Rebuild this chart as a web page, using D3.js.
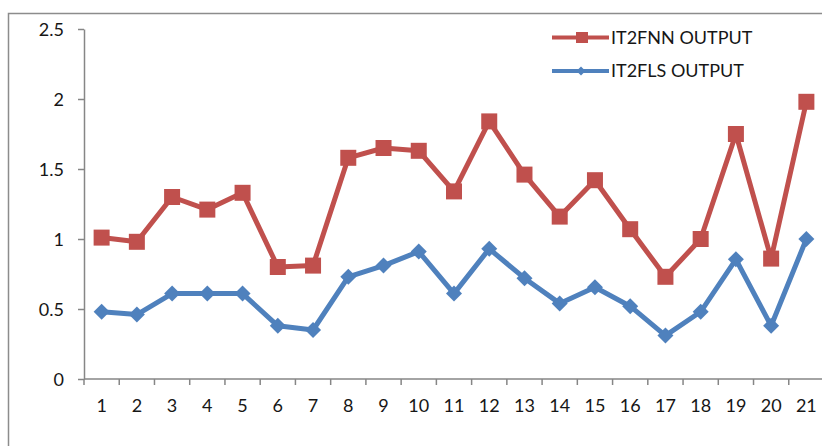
<!DOCTYPE html>
<html>
<head>
<meta charset="utf-8">
<script src="https://cdn.jsdelivr.net/npm/d3@7"></script>
<style>
  html, body { margin: 0; padding: 0; background: #fff; }
  svg { display: block; }
  text { font-family: Lato, "Liberation Sans", sans-serif; fill: #161616; }
</style>
</head>
<body>
<svg id="chart" width="822" height="446"></svg>
<script>
// Sample index 1..21
const categories = d3.range(1, 22).map(String);

// Model outputs per sample
const fnnOutput = [1.01, 0.98, 1.30, 1.21, 1.33, 0.80, 0.81, 1.58, 1.65, 1.63, 1.34,
                   1.84, 1.46, 1.16, 1.42, 1.07, 0.73, 1.00, 1.75, 0.86, 1.98];
const flsOutput = [0.48, 0.46, 0.61, 0.61, 0.61, 0.38, 0.35, 0.73, 0.81, 0.91, 0.61,
                   0.93, 0.72, 0.54, 0.655, 0.52, 0.31, 0.48, 0.855, 0.38, 1.00];

const yTicks = [0, 0.5, 1, 1.5, 2, 2.5];
const seriesNames = ["IT2FNN OUTPUT", "IT2FLS OUTPUT"];

const svg = d3.select("#chart");
const axisColor = "#868686";
const red = "#C0504D", blue = "#4F81BD";
const fontSize = "18px";

// chart area border
svg.append("rect")
  .attr("x", 8.5).attr("y", 13.5)
  .attr("width", 830).attr("height", 460)
  .attr("fill", "none").attr("stroke", "#8c8c8c").attr("stroke-width", 1.5);

const plotLeft = 84, plotRight = 824, plotTop = 29, plotBottom = 379;

const x = d3.scaleBand().domain(categories).range([plotLeft, plotRight]);
const y = d3.scaleLinear().domain([0, 2.5]).range([plotBottom, plotTop]);

// y axis
const yAxis = svg.append("g")
  .attr("transform", `translate(${plotLeft},0)`)
  .call(d3.axisLeft(y).tickValues(yTicks).tickSize(6).tickSizeOuter(0)
    .tickFormat(d => String(d)));
yAxis.select(".domain").attr("stroke", axisColor).attr("stroke-width", 1.5);
yAxis.selectAll(".tick line").attr("stroke", axisColor).attr("stroke-width", 1.5);
yAxis.selectAll(".tick text")
  .attr("x", -20).attr("dy", "0.36em")
  .style("font-size", fontSize).attr("fill", "#161616");

// x axis with ticks at band edges
const xAxis = svg.append("g").attr("transform", `translate(0,${plotBottom})`);
xAxis.append("line")
  .attr("x1", plotLeft).attr("x2", plotRight)
  .attr("stroke", axisColor).attr("stroke-width", 1.5);
xAxis.selectAll("line.tk")
  .data(categories.concat(["end"]))
  .join("line").attr("class", "tk")
  .attr("x1", (d, i) => plotLeft + i * x.bandwidth())
  .attr("x2", (d, i) => plotLeft + i * x.bandwidth())
  .attr("y1", 0).attr("y2", 6)
  .attr("stroke", axisColor).attr("stroke-width", 1.5);
xAxis.selectAll("text")
  .data(categories)
  .join("text")
  .attr("x", d => x(d) + x.bandwidth() / 2)
  .attr("y", 33)
  .attr("text-anchor", "middle")
  .style("font-size", fontSize)
  .text(d => d);

const line = d3.line()
  .x((d, i) => x(categories[i]) + x.bandwidth() / 2)
  .y(d => y(d));

// IT2FLS series (blue, diamonds)
svg.append("path").datum(flsOutput)
  .attr("d", line).attr("fill", "none")
  .attr("stroke", blue).attr("stroke-width", 5).attr("stroke-linejoin", "round");
svg.selectAll("path.dia").data(flsOutput).join("path").attr("class", "dia")
  .attr("transform", (d, i) => `translate(${x(categories[i]) + x.bandwidth() / 2},${y(d)})`)
  .attr("d", "M0,-8L8,0L0,8L-8,0Z").attr("fill", blue);

// IT2FNN series (red, squares)
svg.append("path").datum(fnnOutput)
  .attr("d", line).attr("fill", "none")
  .attr("stroke", red).attr("stroke-width", 5).attr("stroke-linejoin", "round");
svg.selectAll("rect.sq").data(fnnOutput).join("rect").attr("class", "sq")
  .attr("x", (d, i) => x(categories[i]) + x.bandwidth() / 2 - 8)
  .attr("y", d => y(d) - 8)
  .attr("width", 16).attr("height", 16).attr("fill", red);

// legend
const legend = svg.append("g");
const legendRows = [
  { name: seriesNames[0], color: red, marker: "square", y: 37.5 },
  { name: seriesNames[1], color: blue, marker: "diamond", y: 71 }
];
legendRows.forEach(r => {
  legend.append("line")
    .attr("x1", 552).attr("x2", 609).attr("y1", r.y).attr("y2", r.y)
    .attr("stroke", r.color).attr("stroke-width", 4);
  if (r.marker === "square") {
    legend.append("rect").attr("x", 576).attr("y", r.y - 5.5)
      .attr("width", 12).attr("height", 11).attr("fill", r.color);
  } else {
    legend.append("path").attr("transform", `translate(581,${r.y})`)
      .attr("d", "M0,-4.5L4.5,0L0,4.5L-4.5,0Z").attr("fill", r.color);
  }
  legend.append("text")
    .attr("x", 611).attr("y", r.y).attr("dy", "0.36em")
    .style("font-size", fontSize)
    .text(r.name);
});
</script>
</body>
</html>
